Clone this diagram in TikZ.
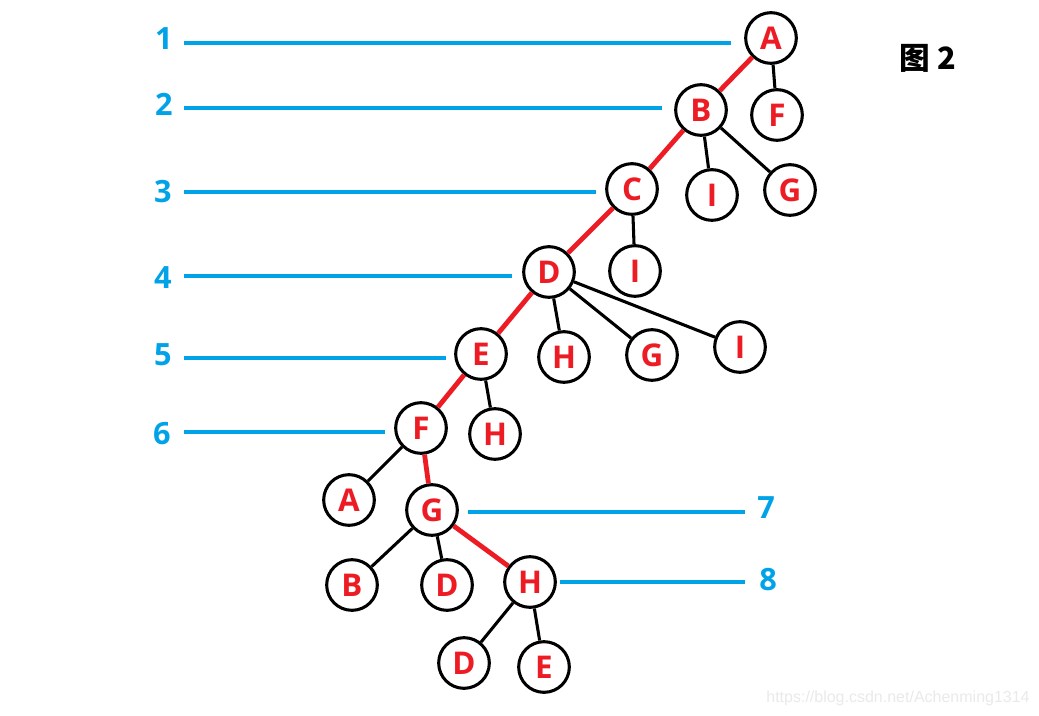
\documentclass[tikz,border=0pt]{standalone}
\usepackage{fontspec}
\setmainfont{Open Sans}
\newfontfamily\cjk{Noto Sans CJK SC}
\newfontfamily\markfont{Liberation Sans}
\definecolor{treered}{RGB}{237,28,36}
\definecolor{levelblue}{RGB}{0,162,232}
\definecolor{markgray}{RGB}{234,234,234}
\tikzstyle{Vertex}=[circle, draw=black, line width=2.3pt, minimum size=38pt, inner sep=0pt, text=treered, font=\bfseries\fontsize{23.5}{23.5}\selectfont]
\tikzstyle{Level}=[text=levelblue, font=\bfseries\fontsize{23}{23}\selectfont]
\tikzstyle{Guide}=[draw=levelblue, line width=2.3pt]
\tikzstyle{Branch}=[draw=black, line width=2.3pt]
\tikzstyle{Search}=[draw=treered, line width=3.6pt]

\begin{document}
\begin{tikzpicture}[x=0.75pt, y=-0.75pt]
    \fill[white] (0,0) rectangle (1039,716);
    \useasboundingbox (0,0) rectangle (1039,716);
    \path
    (771,38) node[Vertex] (a1) {A}
    (777,115) node[Vertex] (f1) {F}
    (701,110) node[Vertex] (b2) {B}
    (712,195) node[Vertex] (i2) {I}
    (790,190) node[Vertex] (g2) {G}
    (632,189) node[Vertex] (c3) {C}
    (635,271) node[Vertex] (i3) {I}
    (549,272) node[Vertex] (d4) {D}
    (481,354) node[Vertex] (e5) {E}
    (564,357) node[Vertex] (h5) {H}
    (652,355) node[Vertex] (g5) {G}
    (740,347) node[Vertex] (i5) {I}
    (421,428) node[Vertex] (f6) {F}
    (495,434) node[Vertex] (h6) {H}
    (349,500) node[Vertex] (a7) {A}
    (432,510) node[Vertex] (g7) {G}
    (352,585) node[Vertex] (b8) {B}
    (447,585) node[Vertex] (d8) {D}
    (530,582) node[Vertex] (h8) {H}
    (464,663) node[Vertex] (d9) {D}
    (544,667) node[Vertex] (e9) {E};

    \path (164,39) node[Level] (n1) {1}
    (164,104) node[Level] (n2) {2}
    (163,192) node[Level] (n3) {3}
    (163,278) node[Level] (n4) {4}
    (163,355) node[Level] (n5) {5}
    (162,434) node[Level] (n6) {6}
    (766,508) node[Level] (n7) {7}
    (768,580) node[Level] (n8) {8}
    (928,58) node[font=\cjk\bfseries\fontsize{23}{23}\selectfont] (title) {图 2}
    (898,698) node[text=markgray, font=\markfont\fontsize{12}{12}\selectfont] (mark) {https://blog.csdn.net/Achenming1314};

    \coordinate (s1) at (184,43);  \coordinate (t1) at (731,43);
    \coordinate (s2) at (184,108); \coordinate (t2) at (662,108);
    \coordinate (s3) at (184,192); \coordinate (t3) at (596,192);
    \coordinate (s4) at (184,276); \coordinate (t4) at (512,276);
    \coordinate (s5) at (184,358); \coordinate (t5) at (446,358);
    \coordinate (s6) at (184,432); \coordinate (t6) at (385,432);
    \coordinate (s7) at (468,512); \coordinate (t7) at (745,512);
    \coordinate (s8) at (560,582); \coordinate (t8) at (745,582);
    \draw[Guide] (s1) -- (t1) (s2) -- (t2) (s3) -- (t3) (s4) -- (t4);
    \draw[Guide] (s5) -- (t5) (s6) -- (t6) (s7) -- (t7) (s8) -- (t8);

    \draw[Search] (a1) -- (b2) -- (c3) -- (d4) -- (e5) -- (f6) -- (g7) -- (h8);
    \draw[Branch] (a1) -- (f1) (b2) -- (i2) (b2) -- (g2) (c3) -- (i3);
    \draw[Branch] (d4) -- (h5) (d4) -- (g5) (d4) -- (i5) (e5) -- (h6);
    \draw[Branch] (f6) -- (a7) (g7) -- (b8) (g7) -- (d8) (h8) -- (d9) (h8) -- (e9);
\end{tikzpicture}
\end{document}
